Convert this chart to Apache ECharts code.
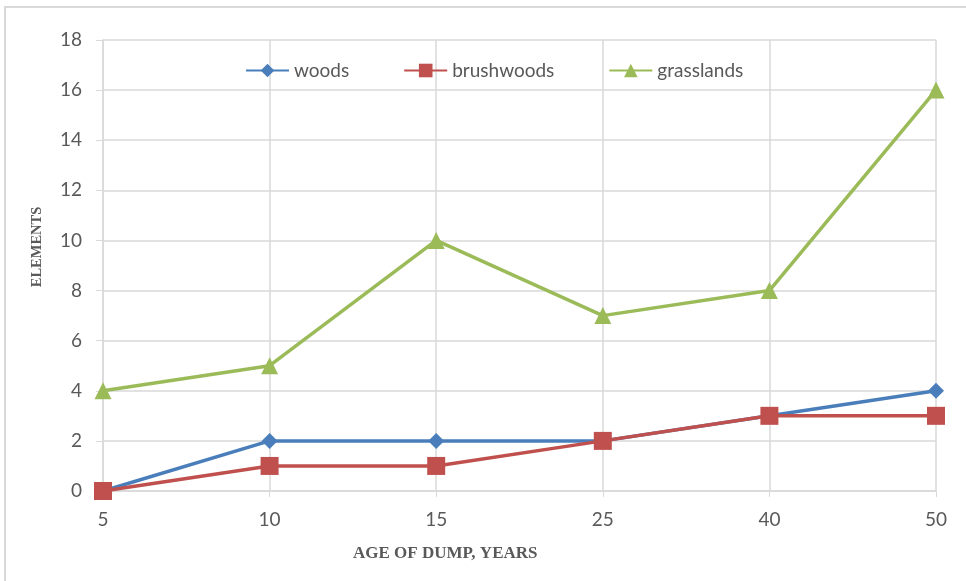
<!DOCTYPE html>
<html>
<head>
<meta charset="utf-8">
<script src="https://cdn.jsdelivr.net/npm/echarts@6/dist/echarts.min.js"></script>
<style>
  html, body { margin: 0; padding: 0; background: #fff; }
  #chart { width: 966px; height: 581px; }
</style>
</head>
<body>
<div id="chart"></div>
<script>
// Age of the dump (years) along the horizontal axis
const ages = ['5', '10', '15', '25', '40', '50'];
// Number of elements per vegetation type
const woods = [0, 2, 2, 2, 3, 4];
const brushwoods = [0, 1, 1, 2, 3, 3];
const grasslands = [4, 5, 10, 7, 8, 16];

const gray = '#595959';
const gridGray = '#d9d9d9';
const sansFont = 'Lato, "Open Sans", sans-serif';
const serifFont = '"Liberation Serif", "DejaVu Serif", serif';

const chart = echarts.init(document.getElementById('chart'));

function lineSeries(name, data, color, symbol, size) {
  return {
    name: name,
    type: 'line',
    data: data,
    symbol: symbol,
    symbolSize: size,
    lineStyle: { color: color, width: 3.5 },
    itemStyle: { color: color },
    animation: false
  };
}

chart.setOption({
  backgroundColor: '#fff',
  graphic: [
    {
      type: 'rect',
      shape: { x: 5, y: 7, width: 1000, height: 620 },
      style: { fill: 'none', stroke: gridGray, lineWidth: 2 },
      z: -1
    },
    {
      type: 'text',
      left: 353,
      top: 545,
      style: { text: 'AGE OF DUMP, YEARS', font: 'bold 17px ' + serifFont, fill: gray }
    },
    {
      type: 'text',
      x: 37,
      y: 247,
      rotation: Math.PI / 2,
      style: {
        text: 'ELEMENTS', font: 'bold 14.5px ' + serifFont, fill: gray,
        align: 'center', verticalAlign: 'middle'
      }
    }
  ],
  legend: {
    left: 245,
    top: 61,
    padding: 0,
    itemWidth: 43,
    itemHeight: 17,
    itemGap: 54,
    textStyle: { color: gray, fontSize: 19, fontFamily: sansFont },
    data: ['woods', 'brushwoods', 'grasslands']
  },
  grid: { left: 103, right: 30, top: 40, bottom: 90, containLabel: false },
  xAxis: {
    type: 'category',
    data: ages,
    boundaryGap: false,
    axisLine: { lineStyle: { color: gridGray, width: 1.5 } },
    axisTick: { show: true, length: 6, lineStyle: { color: gridGray } },
    splitLine: { show: true, lineStyle: { color: gridGray, width: 1.5 } },
    axisLabel: { color: gray, fontSize: 19, fontFamily: sansFont, margin: 19 }
  },
  yAxis: {
    type: 'value',
    min: 0,
    max: 18,
    interval: 2,
    axisLine: { show: true, lineStyle: { color: gridGray, width: 1.5 } },
    axisTick: { show: true, length: 7, lineStyle: { color: gridGray } },
    splitLine: { lineStyle: { color: gridGray, width: 1.5 } },
    axisLabel: { color: gray, fontSize: 19, fontFamily: sansFont, margin: 21 }
  },
  series: [
    lineSeries('woods', woods, '#4a7ebb', 'diamond', 16),
    lineSeries('brushwoods', brushwoods, '#c0504d', 'rect', 18),
    lineSeries('grasslands', grasslands, '#9bbb59', 'triangle', 17)
  ]
});
</script>
</body>
</html>
